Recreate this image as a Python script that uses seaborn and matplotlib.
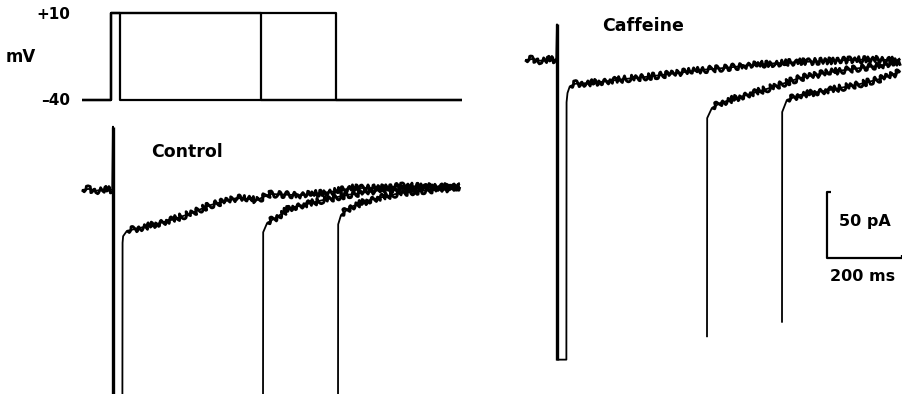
import matplotlib
matplotlib.use("Agg")
import matplotlib.pyplot as plt
import seaborn as sns

# ---------------- data ----------------
pulse_ms = [25, 400, 600]          # depolarising step durations
v_hold, v_step = -40, 10           # mV
protocol_t_start, protocol_t_end = -78, 936

# Control (pA, relative to holding current)
ctrl_base_t = [-83, -65, -45, -25, -2]
ctrl_base_i = [0, 0.8, -0.6, 0.5, 0]
ctrl_spike = 48
ctrl_peaks = [-170, -170, -170]    # off-scale (clipped)
ctrl_tail1_t = [25.5, 27, 37, 59, 99, 152, 205, 259, 331, 384, 419, 499, 579, 640, 712, 773, 845, 925]
ctrl_tail1_i = [-40, -35, -31, -29.5, -27, -23, -18, -11.5, -6, -7.5, -3, -4, -1.5, 1.5, 1.5, 3, 2.5, 2.5]
ctrl_tail2_t = [400.5, 411, 437, 472, 507, 560, 624, 712, 819, 925]
ctrl_tail2_i = [-32, -25, -20.5, -13.6, -11.4, -7.6, -3.8, 0, 1.5, 2.3]
ctrl_tail3_t = [600.5, 608, 632, 685, 765, 845, 925]
ctrl_tail3_i = [-26, -19, -13, -7.6, -2.3, 0, 1.5]

# Caffeine
caf_base_t = [-85, -65, -45, -25, -2]
caf_base_i = [0, 0.8, -0.6, 0.5, 0]
caf_spike = 27
caf_peaks = [-227, -210, -199]
caf_tail1_t = [25.5, 28, 34, 48, 88, 115, 181, 248, 315, 381, 448, 515, 581, 648, 715, 781, 848, 915]
caf_tail1_i = [-32, -25, -20, -18, -17.4, -16.7, -14.4, -12.5, -10, -7.6, -6, -4, -2.5, -1.5, -0.8, 0, 0.5, -0.5]
caf_tail2_t = [400.5, 413, 435, 488, 568, 648, 728, 808, 915]
caf_tail2_i = [-44, -36.4, -32.6, -28, -21.2, -13.6, -9.1, -6.1, -2.3]
caf_tail3_t = [600.5, 613, 648, 728, 808, 861, 915]
caf_tail3_i = [-39.4, -30.3, -26.5, -22.7, -18.2, -14.4, -9.1]

scale_pa = 50
scale_ms = 200

# ---------------- layout ----------------
sns.set_theme(style="white")
plt.rcParams["font.family"] = ["DejaVu Sans"]

W, H = 902, 394
PX_PER_MS, PX_PER_PA, PX_PER_MV = 0.375, 1.32, 1.74

fig = plt.figure(figsize=(W / 100, H / 100), dpi=100)


def overlay_axes(x0, y0, yscale):
    ax = fig.add_axes([0, 0, 1, 1])
    ax.set_axis_off()
    ax.patch.set_alpha(0)
    return ax, ((-x0 / PX_PER_MS, (W - x0) / PX_PER_MS), ((y0 - H) / yscale, y0 / yscale))


ax_v, lim_v = overlay_axes(111, 100 - 40 * PX_PER_MV, PX_PER_MV)
ax_c, lim_c = overlay_axes(113, 190, PX_PER_PA)
ax_f, lim_f = overlay_axes(557, 60, PX_PER_PA)

NOISE = (3.2, 6.5, 3.0)


def seg(ax, t, y, lw, noisy=False):
    n0 = len(ax.lines)
    sns.lineplot(x=t, y=y, ax=ax, color="black", linewidth=lw, sort=False,
                 estimator=None, legend=False,
                 solid_joinstyle="round", solid_capstyle="butt")
    if noisy:
        for ln in ax.lines[n0:]:
            ln.set_sketch_params(*NOISE)


# voltage protocol
for d in pulse_ms:
    seg(ax_v, [protocol_t_start, 0, 0, d, d, protocol_t_end],
        [v_hold, v_hold, v_step, v_step, v_hold, v_hold], 1.6)

tk = dict(color="black", fontsize=11, fontweight="bold")
ax_v.text(-108, v_step - 1, "+10", ha="right", va="center", **tk)
ax_v.text(-108, v_hold - 0.5, "\u201340", ha="right", va="center", **tk)
ax_v.text(-280, -15.5, "mV", ha="left", va="center", color="black", fontsize=12, fontweight="bold")


def draw_panel(ax, base_t, base_i, spike, peaks, tails):
    (t1, i1) = tails[0]
    d0 = pulse_ms[0]
    full_t = base_t + [0, 0, 1, d0] + t1
    full_i = base_i + [spike, peaks[0], peaks[0], peaks[0]] + i1
    seg(ax, full_t, full_i, 1.3)
    seg(ax, [0, 0], [spike, peaks[0]], 2.4)
    seg(ax, base_t, base_i, 2.0, noisy=True)
    seg(ax, t1[2:], i1[2:], 2.0, noisy=True)
    for d, pk, (tt, ii) in zip(pulse_ms[1:], peaks[1:], tails[1:]):
        seg(ax, [d] + tt, [pk] + ii, 1.3)
        seg(ax, tt[1:], ii[1:], 2.0, noisy=True)


draw_panel(ax_c, ctrl_base_t, ctrl_base_i, ctrl_spike, ctrl_peaks,
           [(ctrl_tail1_t, ctrl_tail1_i), (ctrl_tail2_t, ctrl_tail2_i), (ctrl_tail3_t, ctrl_tail3_i)])
draw_panel(ax_f, caf_base_t, caf_base_i, caf_spike, caf_peaks,
           [(caf_tail1_t, caf_tail1_i), (caf_tail2_t, caf_tail2_i), (caf_tail3_t, caf_tail3_i)])

lab = dict(color="black", fontsize=12.5, fontweight="bold", ha="left", va="center")
ax_c.text(103, 29, "Control", **lab)
ax_f.text(120, 26, "Caffeine", **lab)

# scale bar
sb_t0, sb_i0 = 720, -150
seg(ax_f, [sb_t0 + 10, sb_t0, sb_t0, sb_t0 + scale_ms, sb_t0 + scale_ms],
    [sb_i0 + scale_pa, sb_i0 + scale_pa, sb_i0, sb_i0, sb_i0 + 2.5], 1.6)
sb = dict(color="black", fontsize=11.5, fontweight="bold", va="center")
ax_f.text(sb_t0 + 32, sb_i0 + 0.55 * scale_pa, "50 pA", ha="left", **sb)
ax_f.text(sb_t0 + scale_ms / 2 - 6, sb_i0 - 14, "200 ms", ha="center", **sb)

for ax, (xl, yl) in ((ax_v, lim_v), (ax_c, lim_c), (ax_f, lim_f)):
    ax.set_xlim(*xl)
    ax.set_ylim(*yl)

fig.savefig("out.png", dpi=100, facecolor="white")
